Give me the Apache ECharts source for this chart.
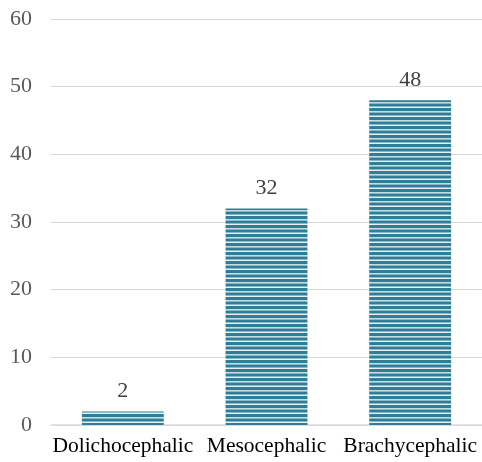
<!DOCTYPE html>
<html><head><meta charset="utf-8">
<script src="https://cdn.jsdelivr.net/npm/echarts@6/dist/echarts.min.js"></script>
<style>html,body{margin:0;padding:0;background:#fff}#c{width:482px;height:462px}</style>
</head><body><div id="c"></div>
<script>
const categories = ['Dolichocephalic', 'Mesocephalic', 'Brachycephalic'];
const values = [2, 32, 48];
const yTicks = [0, 10, 20, 30, 40, 50, 60];

const tile = document.createElement('canvas');
tile.width = 4; tile.height = 9;
const g = tile.getContext('2d');
g.fillStyle = '#e4f1f5'; g.fillRect(0, 0, 4, 9);
g.fillStyle = '#2f7e98';
g.fillRect(0, 0, 4, 3);
g.fillRect(0, 4.5, 4, 3);
g.fillStyle = 'rgba(47,126,152,0.35)';
g.fillRect(0, 3, 4, 0.5);

const chart = echarts.init(document.getElementById('c'), null, {renderer: 'canvas'});
chart.setOption({
  animation: false,
  grid: {left: 51, top: 19, width: 434, height: 406},
  xAxis: {
    type: 'category', data: categories,
    axisLine: {lineStyle: {color: '#d9d9d9', width: 1.5}},
    axisTick: {show: false},
    axisLabel: {fontFamily: 'Liberation Serif', fontSize: 21.5, color: '#000', margin: 10, interval: 0}
  },
  yAxis: {
    type: 'value', min: yTicks[0], max: yTicks[yTicks.length - 1], interval: 10,
    axisLine: {show: false}, axisTick: {show: false},
    splitLine: {lineStyle: {color: '#d9d9d9', width: 1}},
    axisLabel: {fontFamily: 'Liberation Serif', fontSize: 22, color: '#595959', margin: 19}
  },
  series: [{
    type: 'bar', data: values, barWidth: '57%',
    itemStyle: {color: {image: tile, repeat: 'repeat'}},
    label: {show: true, position: 'top', distance: 9, fontFamily: 'Liberation Serif', fontSize: 22, color: '#404040'}
  }]
});
</script></body></html>
